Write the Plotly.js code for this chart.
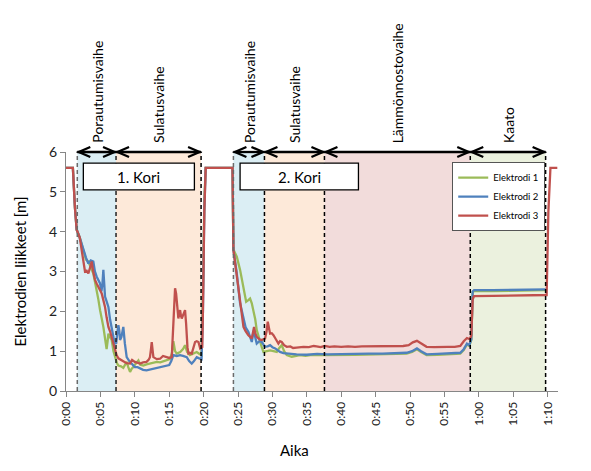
<!DOCTYPE html>
<html>
<head>
<meta charset="utf-8">
<script src="https://cdn.plot.ly/plotly-3.0.1.min.js"></script>
<style>html,body{margin:0;padding:0;background:#fff;}#chart{width:591px;height:471px;}</style>
</head>
<body>
<div id="chart"></div>
<script>
// ---- data (time in minutes, value in metres) ----
const seriesNames = ["Elektrodi 1", "Elektrodi 2", "Elektrodi 3"];
const seriesColors = ["#9bbb59", "#4f81bd", "#c0504d"];

const time1 = [0, 1.0, 1.3, 1.55, 2.0, 2.5, 2.9, 3.25, 3.6, 3.97, 4.2, 4.46, 4.7, 4.95, 5.2, 5.43, 5.65, 5.9, 6.05, 6.16, 6.4, 6.64, 6.9, 7.12, 7.4, 7.61, 8.0, 8.33, 8.6, 8.82, 9.05, 9.31, 9.55, 9.79, 10.1, 10.52, 10.8, 11.24, 11.7, 12.2, 12.7, 13.2, 13.7, 14.2, 14.64, 15.1, 15.4, 15.6, 15.85, 16.09, 16.6, 17.0, 17.3, 17.6, 18.0, 18.5, 19.0, 19.4, 19.7, 19.9, 20.1, 20.3, 24.2, 24.33, 24.82, 25.3, 25.79, 26.18, 26.5, 26.75, 27.0, 27.24, 27.5, 27.72, 28.0, 28.2, 28.45, 28.69, 29.2, 29.66, 30.15, 30.63, 31.0, 31.35, 31.7, 32.08, 32.8, 33.5, 34.0, 34.8, 35.5, 37.0, 39.0, 42.0, 45.0, 48.0, 49.5, 50.3, 51.0, 51.6, 52.4, 54.0, 56.0, 57.3, 57.8, 58.27, 58.6, 58.9, 59.1, 59.3, 62.0, 65.0, 68.0, 69.7];
const elektrodi1 = [5.6, 5.6, 4.6, 4.05, 3.85, 3.55, 3.3, 3.25, 3.1, 2.95, 2.75, 2.54, 2.3, 2.03, 1.85, 1.61, 1.35, 1.05, 1.25, 1.44, 1.35, 1.28, 1.0, 0.85, 0.7, 0.64, 0.62, 0.58, 0.66, 0.73, 0.6, 0.48, 0.56, 0.6, 0.68, 0.77, 0.66, 0.64, 0.67, 0.69, 0.7, 0.73, 0.72, 0.75, 0.77, 0.8, 0.95, 1.25, 1.0, 0.94, 0.98, 1.05, 1.15, 0.98, 0.9, 0.95, 0.98, 0.93, 0.9, 2.5, 4.8, 5.6, 5.6, 3.55, 3.37, 3.04, 2.62, 2.24, 2.28, 2.32, 2.2, 2.03, 1.8, 1.53, 1.35, 1.23, 1.1, 0.98, 1.0, 1.02, 1.0, 0.98, 1.08, 1.15, 1.0, 0.9, 0.86, 0.88, 0.9, 0.88, 0.9, 0.9, 0.91, 0.91, 0.92, 0.93, 0.94, 0.98, 1.05, 0.98, 0.9, 0.91, 0.92, 0.94, 1.03, 1.17, 1.13, 1.28, 2.48, 2.51, 2.51, 2.52, 2.53, 2.53];

const time2 = [0, 1.0, 1.3, 1.55, 2.0, 2.5, 2.9, 3.25, 3.6, 3.97, 4.2, 4.46, 4.7, 4.95, 5.15, 5.3, 5.43, 5.55, 5.67, 5.9, 6.16, 6.4, 6.64, 6.9, 7.12, 7.3, 7.45, 7.61, 7.75, 7.85, 8.05, 8.2, 8.33, 8.55, 8.82, 9.2, 9.55, 10.0, 10.4, 10.76, 11.2, 11.7, 12.2, 12.7, 13.2, 13.67, 14.2, 14.64, 15.0, 15.3, 15.6, 16.1, 16.58, 17.0, 17.55, 17.9, 18.27, 18.6, 19.0, 19.35, 19.7, 19.9, 20.1, 20.3, 24.2, 24.33, 24.82, 25.3, 25.79, 26.1, 26.5, 27.0, 27.15, 27.33, 27.5, 27.72, 28.1, 28.45, 28.93, 29.3, 29.66, 30.0, 30.4, 30.8, 31.1, 31.6, 32.08, 32.8, 33.5, 35.0, 36.5, 38.0, 40.0, 42.0, 44.0, 46.0, 48.0, 49.5, 50.3, 51.0, 51.6, 52.4, 54.0, 56.0, 57.3, 57.8, 58.27, 58.6, 58.9, 59.1, 59.3, 62.0, 65.0, 68.0, 69.7];
const elektrodi2 = [5.6, 5.6, 4.6, 4.05, 3.85, 3.54, 3.35, 3.2, 3.28, 3.25, 3.0, 2.87, 2.78, 2.7, 2.5, 2.7, 3.04, 2.6, 2.37, 2.25, 2.11, 1.8, 1.53, 1.35, 1.19, 1.2, 1.45, 1.65, 1.5, 1.28, 1.35, 1.55, 1.61, 1.2, 0.85, 0.75, 0.69, 0.6, 0.6, 0.56, 0.53, 0.52, 0.54, 0.56, 0.57, 0.6, 0.61, 0.64, 0.65, 0.75, 0.9, 0.88, 0.9, 0.88, 0.85, 0.75, 0.69, 0.75, 0.85, 0.82, 0.8, 2.0, 4.5, 5.6, 5.6, 3.54, 2.95, 2.2, 1.78, 1.6, 1.49, 1.23, 1.4, 1.53, 1.35, 1.19, 1.25, 1.23, 1.11, 1.12, 1.15, 1.1, 1.07, 1.02, 0.98, 0.95, 0.94, 0.93, 0.92, 0.91, 0.93, 0.92, 0.93, 0.93, 0.94, 0.94, 0.95, 0.96, 1.0, 1.07, 1.0, 0.92, 0.93, 0.94, 0.96, 1.05, 1.19, 1.15, 1.3, 2.5, 2.53, 2.53, 2.54, 2.55, 2.55];

const time3 = [0, 1.0, 1.3, 1.55, 2.0, 2.28, 2.5, 2.76, 3.0, 3.25, 3.5, 3.73, 3.95, 4.22, 4.45, 4.7, 4.95, 5.19, 5.4, 5.67, 5.9, 6.16, 6.4, 6.64, 6.9, 7.12, 7.35, 7.61, 8.0, 8.33, 8.8, 9.31, 9.6, 10.0, 10.4, 10.76, 11.2, 11.7, 12.0, 12.2, 12.35, 12.46, 12.6, 12.7, 13.2, 13.67, 14.1, 14.64, 15.0, 15.37, 15.5, 15.6, 15.75, 15.85, 16.0, 16.09, 16.2, 16.33, 16.45, 16.58, 16.7, 16.82, 17.0, 17.15, 17.3, 17.45, 17.55, 17.65, 17.79, 18.0, 18.27, 18.5, 18.76, 19.0, 19.25, 19.5, 19.8, 19.9, 20.1, 20.3, 24.2, 24.33, 24.82, 25.3, 25.79, 26.1, 26.5, 27.0, 27.15, 27.33, 27.5, 27.72, 28.1, 28.45, 28.93, 29.15, 29.32, 29.5, 29.66, 29.9, 30.15, 30.5, 30.87, 31.1, 31.35, 31.7, 32.08, 32.6, 33.0, 33.5, 34.5, 35.3, 36.0, 36.4, 37.0, 37.6, 38.3, 39.0, 40.0, 41.0, 42.0, 43.0, 44.0, 45.0, 46.0, 47.0, 48.0, 49.0, 49.8, 50.4, 51.0, 51.6, 52.4, 53.5, 54.5, 55.5, 56.5, 57.3, 57.8, 58.27, 58.7, 58.9, 59.1, 59.3, 62.0, 65.0, 68.0, 69.85, 70.1, 70.4, 71.4];
const elektrodi3 = [5.6, 5.6, 4.6, 4.05, 3.85, 3.54, 3.3, 3.0, 3.02, 2.95, 3.1, 3.25, 3.0, 2.79, 2.7, 2.62, 2.55, 2.45, 2.3, 2.11, 1.85, 1.61, 1.5, 1.36, 1.2, 1.07, 0.9, 0.82, 0.78, 0.73, 0.7, 0.69, 0.78, 0.73, 0.7, 0.69, 0.72, 0.73, 0.78, 0.85, 1.05, 1.23, 1.0, 0.85, 0.8, 0.81, 0.88, 0.85, 0.83, 0.85, 1.3, 1.86, 2.3, 2.58, 2.45, 2.28, 1.95, 1.82, 1.95, 2.03, 1.9, 1.82, 1.9, 2.0, 2.03, 1.7, 1.36, 1.1, 0.94, 0.96, 0.94, 1.05, 1.23, 1.25, 1.23, 1.07, 1.1, 2.0, 4.5, 5.6, 5.6, 3.54, 2.87, 2.2, 1.61, 1.5, 1.4, 1.32, 1.45, 1.61, 1.45, 1.36, 1.3, 1.28, 1.32, 1.5, 1.74, 1.6, 1.44, 1.45, 1.4, 1.3, 1.19, 1.25, 1.23, 1.15, 1.11, 1.12, 1.08, 1.09, 1.11, 1.1, 1.13, 1.12, 1.1, 1.13, 1.11, 1.12, 1.11, 1.12, 1.11, 1.12, 1.12, 1.12, 1.13, 1.12, 1.13, 1.13, 1.15, 1.22, 1.26, 1.2, 1.11, 1.1, 1.11, 1.11, 1.11, 1.13, 1.25, 1.33, 1.3, 1.4, 2.3, 2.38, 2.39, 2.4, 2.41, 2.41, 4.5, 5.6, 5.6];

// x-axis ticks (minutes) and their labels
const tickMinutes = [0, 5, 10, 15, 20, 25, 30, 35, 40, 45, 50, 55, 60, 65, 70];
const tickLabels = ["0:00", "0:05", "0:10", "0:15", "0:20", "0:25", "0:30", "0:35", "0:40", "0:45", "0:50", "0:55", "1:00", "1:05", "1:10"];

// phases: start, end (minutes), label, shade colour
const phaseStart = [1.64, 7.27, 24.33, 28.84, 37.56, 58.75];
const phaseEnd   = [7.27, 19.63, 28.84, 37.56, 58.75, 69.7];
const phaseLabels = ["Porautumisvaihe", "Sulatusvaihe", "Porautumisvaihe", "Sulatusvaihe", "Lämmönnostovaihe", "Kaato"];
const phaseFill = ["#dbeef4", "#fde9d9", "#dbeef4", "#fde9d9", "#f2dcdb", "#ebf1de"];

// batch boxes
const koriLabels = ["1. Kori", "2. Kori"];
const koriStart = [2.52, 25.3];
const koriEnd = [18.66, 42.5];

// ---- build ----
const xs = [time1, time2, time3];
const ys = [elektrodi1, elektrodi2, elektrodi3];
const traces = seriesNames.map((n, i) => ({
  type: "scatter", mode: "lines", name: n, x: xs[i], y: ys[i],
  line: {color: seriesColors[i], width: 2.3}
}));

const FONT = "Lato, 'Open Sans', sans-serif";
const shapes = [];
const annotations = [];
phaseStart.forEach((a, i) => {
  const b = phaseEnd[i];
  shapes.push({type: "rect", layer: "below", xref: "x", yref: "y", x0: a, x1: b, y0: 0, y1: 6,
    fillcolor: phaseFill[i], line: {width: 0}});
});
// dashed boundaries
const bounds = [1.64, 7.27, 19.63, 24.33, 28.84, 37.56, 58.75, 69.7];
const boundColor = ["#6a6a6a", "#222", "#000", "#6a6a6a", "#000", "#000", "#000", "#000"];
bounds.forEach((b, i) => {
  shapes.push({type: "line", layer: "above", xref: "x", yref: "y", x0: b, x1: b, y0: 0, y1: 6,
    line: {color: boundColor[i], width: 1.5, dash: "4px,3px"}});
});
// double arrows along the top edge (paper y so they are not clipped)
phaseStart.forEach((a, i) => {
  const b = phaseEnd[i];
  shapes.push({type: "line", layer: "above", xref: "x", yref: "paper", x0: a, x1: b, y0: 1, y1: 1,
    line: {color: "#000", width: 2.3}});
  shapes.push({type: "path", layer: "above", xref: "x", yref: "paper", xsizemode: "pixel", ysizemode: "pixel",
    xanchor: a, yanchor: 1, path: "M 13,5 L 1.5,0 L 13,-5", line: {color: "#000", width: 2.3}});
  shapes.push({type: "path", layer: "above", xref: "x", yref: "paper", xsizemode: "pixel", ysizemode: "pixel",
    xanchor: b, yanchor: 1, path: "M -13,5 L -1.5,0 L -13,-5", line: {color: "#000", width: 2.3}});
  annotations.push({xref: "x", yref: "paper", x: (a + b) / 2, y: 1, yanchor: "bottom", xanchor: "center",
    yshift: 7, textangle: -90, showarrow: false, text: phaseLabels[i],
    font: {family: FONT, size: 14, color: "#000"}});
});
// Kori boxes
koriLabels.forEach((t, i) => {
  shapes.push({type: "rect", layer: "above", xref: "x", yref: "y", x0: koriStart[i], x1: koriEnd[i],
    y0: 5.05, y1: 5.72, fillcolor: "#fff", line: {color: "#000", width: 1.3}});
  annotations.push({xref: "x", yref: "y", x: (koriStart[i] + koriEnd[i]) / 2, y: 5.385,
    showarrow: false, text: t, font: {family: FONT, size: 15, color: "#000"}});
});
// x axis title (placed like the original)
annotations.push({xref: "paper", yref: "paper", x: 0.465, y: -0.245, xanchor: "center", yanchor: "middle",
  showarrow: false, text: "Aika", font: {family: FONT, size: 15, color: "#000"}});

const layout = {
  width: 591, height: 471,
  margin: {l: 66, r: 33, t: 152, b: 80, pad: 0},
  paper_bgcolor: "#fff", plot_bgcolor: "#fff",
  font: {family: FONT, color: "#222"},
  showlegend: true,
  legend: {x: 0.785, y: 0.958, xanchor: "left", yanchor: "top", bgcolor: "#fff",
    bordercolor: "#555", borderwidth: 1, font: {size: 9.5, color: "#000"}, tracegroupgap: 0},
  xaxis: {range: [0, 71.5], tickmode: "array", tickvals: tickMinutes, ticktext: tickLabels,
    tickangle: -90, ticks: "outside", ticklen: 5, tickcolor: "#868686", showline: true,
    linecolor: "#868686", linewidth: 1, showgrid: false, zeroline: false,
    tickfont: {size: 12, color: "#222"}},
  yaxis: {range: [0, 6], dtick: 1, tick0: 0, ticks: "outside", ticklen: 5, tickcolor: "#868686",
    showline: true, linecolor: "#868686", linewidth: 1, showgrid: false, zeroline: false,
    tickfont: {size: 14, color: "#222"},
    title: {text: "Elektrodien liikkeet [m]", font: {size: 15, color: "#000"}, standoff: 18}},
  shapes: shapes,
  annotations: annotations
};
Plotly.newPlot("chart", traces, layout, {displayModeBar: false, staticPlot: true});
</script>
</body>
</html>
